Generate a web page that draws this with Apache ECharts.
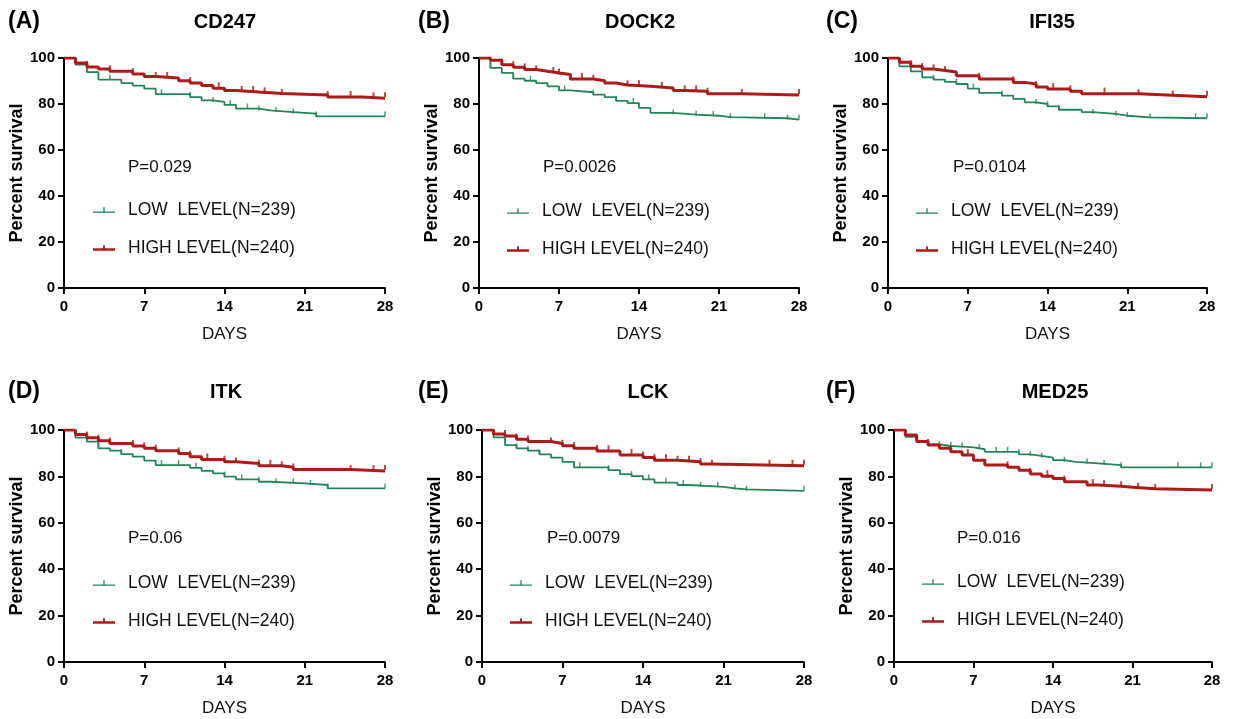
<!DOCTYPE html>
<html>
<head>
<meta charset="utf-8">
<script src="https://cdn.jsdelivr.net/npm/echarts@6/dist/echarts.min.js"></script>
<style>
html,body{margin:0;padding:0;background:#fff;}
#chart{width:1237px;height:719px;}
</style>
</head>
<body>
<div id="chart"></div>
<script>
// ---------- DATA ----------
const panelTitles = ['CD247', 'DOCK2', 'IFI35', 'ITK', 'LCK', 'MED25'];
const panelLetters = ['(A)', '(B)', '(C)', '(D)', '(E)', '(F)'];
const pValues = ['P=0.029', 'P=0.0026', 'P=0.0104', 'P=0.06', 'P=0.0079', 'P=0.016'];
const seriesNames = ['LOW  LEVEL(N=239)', 'HIGH LEVEL(N=240)'];
const xTicks = [0, 7, 14, 21, 28];
const yTicks = [0, 20, 40, 60, 80, 100];
const xAxisTitle = 'DAYS';
const yAxisTitle = 'Percent survival';

// step points [day, percent survival]
const lowA  = [[0,100],[1,97.1],[2,93.9],[3,90.6],[5,89.1],[6,88],[7,86.7],[8,84.3],[11,83],[12,81.6],[13,80.9],[14,79.6],[15,78],[17,77.2],[18,76.5],[20,75.8],[22,74.6],[28,74.6]];
const highA = [[0,100],[1,97.8],[2,96.1],[3,95.2],[4,94.2],[6,93],[7,92],[8,91.3],[10,90.1],[11,89.1],[12,88],[13,86.8],[14,85.9],[15,85.2],[17,84.6],[19,83.9],[23,83],[26,82.5],[28,82.5]];
const lowB  = [[0,100],[1,95.7],[2,93.5],[3,91],[4,90.1],[5,89.1],[6,87.7],[7,85.9],[8,85.1],[10,84.1],[11,83],[12,81.4],[13,80.4],[14,78.3],[15,76.1],[17,75.4],[19,74.9],[21,74.3],[22,73.8],[27,73.2],[28,73.2]];
const highB = [[0,100],[1,99],[2,97.1],[3,96],[4,95],[5,94.2],[6,93.5],[7,92.8],[8,90.9],[10,90.1],[11,89.1],[12,88.3],[13,87.7],[15,87],[17,85.9],[18,85.5],[20,84.5],[23,83.9],[28,83.9]];
const lowC  = [[0,100],[1,96.4],[2,94.2],[3,91.6],[4,90.6],[5,89.6],[6,88.7],[7,86.7],[8,84.8],[10,83.6],[11,82.2],[12,80.7],[13,80],[14,79],[15,77.5],[17,76.5],[18,75.7],[20,74.9],[21,74.2],[23,73.8],[28,73.8]];
const highC = [[0,100],[1,98.1],[2,96.4],[3,95.2],[4,94.6],[5,93.9],[6,92.3],[8,90.9],[11,89.4],[12,88.7],[13,87.4],[14,86.5],[16,85.5],[17,84.5],[22,83.8],[25,83.2],[28,83.2]];
const lowD  = [[0,100],[1,96.7],[2,95],[3,92.1],[4,91.1],[5,89.6],[6,88.5],[7,86.8],[8,84.9],[11,83.7],[12,82.4],[13,81.3],[14,79.9],[15,78.7],[17,77.7],[18,77],[21,76.3],[23,74.8],[28,74.8]];
const highD = [[0,100],[1,98.1],[2,96.7],[3,95.4],[4,94.2],[6,93.1],[7,92.1],[8,91.1],[10,89.9],[11,88.5],[12,87.3],[14,86.3],[15,85.6],[17,84.6],[19,83.9],[20,83],[25,82.3],[28,82.3]];
const lowE  = [[0,100],[1,96.8],[2,93.5],[3,92.1],[4,91.1],[5,89.5],[6,88.1],[7,86.3],[8,83.9],[11,82.7],[12,81],[13,80.1],[14,78.7],[15,77.3],[17,76.3],[18,75.5],[21,74.8],[22,74.4],[23,73.8],[28,73.8]];
const highE = [[0,100],[1,98.3],[2,97.4],[3,96],[4,95],[6,94.2],[7,93.2],[8,92.1],[10,90.9],[12,89.2],[14,88.1],[15,87],[17,86.3],[19,85.3],[20,84.6],[28,84.6]];
const lowF  = [[0,100],[1,97.1],[2,95],[3,93.8],[4,93.1],[5,92.8],[6,92.5],[7,91.7],[8,90.6],[11,89.5],[12,88.8],[13,88.1],[14,87],[15,86.3],[16,85.6],[18,84.9],[20,83.9],[28,83.9]];
const highF = [[0,100],[1,97.8],[2,95],[3,93.5],[4,92.1],[5,90.6],[6,89.2],[7,87],[8,84.9],[10,83.9],[11,82.7],[12,81],[13,80.1],[14,79.1],[15,77.7],[17,76.3],[18,75.8],[20,75.3],[21,74.7],[23,74.1],[28,74.1]];

// censoring times (days)
const lowCensorA  = [4, 8.5, 11, 13, 14.5, 16, 17, 18.5, 20, 22, 28];
const highCensorA = [2, 4, 6, 8, 9, 11, 13.5, 15.5, 16.5, 17.5, 19, 23, 25, 27, 28];
const lowCensorB  = [1, 3, 4.5, 7.5, 10, 12, 13.5, 17, 19, 20.5, 22, 25, 27, 28];
const highCensorB = [2, 3, 4, 5, 6.5, 7, 9, 10, 13, 14, 16, 18, 19, 20, 23, 28];
const lowCensorC  = [4, 6, 7.5, 10, 13, 14, 15, 18, 20, 21, 23, 27, 28];
const highCensorC = [2, 3, 4, 5, 8, 11, 13, 14.5, 16, 19, 22, 25, 28];
const lowCensorD  = [3, 5, 8.5, 10, 11.5, 14, 15.5, 17, 18.5, 20, 21.5, 23, 28];
const highCensorD = [2, 3, 4, 6, 7, 8, 10, 11, 12.5, 14, 15, 17, 18, 19, 20, 25, 27, 28];
const lowCensorE  = [3, 4, 5, 8.5, 11, 13, 14.5, 16, 17.5, 19, 20.5, 22, 23, 28];
const highCensorE = [2, 3, 4, 6, 7, 8, 10, 11, 13, 14, 15, 16, 17, 18, 19, 20, 25, 27, 28];
const lowCensorF  = [2, 3, 4, 5, 6, 7.5, 9, 10, 11, 12, 13, 15, 17, 18.5, 20, 25, 27, 28];
const highCensorF = [2, 3, 5, 6.5, 8, 10, 12, 13.5, 15, 17.5, 18.5, 20, 21.5, 23, 28];

// ---------- LAYOUT / STYLE ----------
const lowCurves = [lowA, lowB, lowC, lowD, lowE, lowF];
const highCurves = [highA, highB, highC, highD, highE, highF];
const lowCensors = [lowCensorA, lowCensorB, lowCensorC, lowCensorD, lowCensorE, lowCensorF];
const highCensors = [highCensorA, highCensorB, highCensorC, highCensorD, highCensorE, highCensorF];

const FONT = '"Liberation Sans", Arial, Helvetica, sans-serif';
const GREEN = '#24845a';
const RED = '#ac1a1a';

const grids = [
  {left: 64, top: 58, width: 321, height: 230},
  {left: 479, top: 58, width: 320, height: 230},
  {left: 888, top: 58, width: 319, height: 230},
  {left: 64, top: 430, width: 321, height: 232},
  {left: 482, top: 430, width: 322, height: 232},
  {left: 894, top: 430, width: 318, height: 232}
];
const legendPos = [
  {left: 93, top: 200}, {left: 507, top: 201}, {left: 916, top: 201},
  {left: 93, top: 573}, {left: 510, top: 573}, {left: 922, top: 572}
];
const pPos = [[128,167],[543,167],[953,167],[128,538],[547,538],[957,538]];
const titlePos = [[225,22],[640,22],[1052,22],[226,392],[648,392],[1055,392]];
const letterPos = [[8,22],[418,22],[826,22],[8,392],[418,392],[826,392]];

function stepValue(curve, day) {
  let v = curve[0][1];
  for (const p of curve) { if (p[0] <= day) v = p[1]; }
  return v;
}

const chart = echarts.init(document.getElementById('chart'), null, {renderer: 'canvas'});

const xAxes = [], yAxes = [], series = [], legends = [], graphics = [];
const lowIcon = 'path://M0,4.6 L24,4.6 L24,6 L0,6 Z M11.3,0 L12.7,0 L12.7,4.6 L11.3,4.6 Z';
const highIcon = 'path://M0,3.2 L24,3.2 L24,6 L0,6 Z M11,0 L13,0 L13,3.2 L11,3.2 Z';

for (let i = 0; i < 6; i++) {
  xAxes.push({
    gridIndex: i, type: 'value', min: 0, max: 28, interval: 7,
    name: xAxisTitle, nameLocation: 'middle', nameGap: 38,
    nameTextStyle: {fontFamily: FONT, fontSize: 17, color: '#111'},
    axisLine: {show: true, onZero: false, lineStyle: {color: '#000', width: 2}},
    axisTick: {show: true, length: 6, lineStyle: {color: '#000', width: 2}},
    axisLabel: {fontFamily: FONT, fontSize: 15, fontWeight: 'bold', color: '#000', margin: 11,
      formatter: v => xTicks.includes(v) ? String(v) : ''},
    splitLine: {show: false}
  });
  yAxes.push({
    gridIndex: i, type: 'value', min: 0, max: 100, interval: 20,
    name: yAxisTitle, nameLocation: 'middle', nameGap: 32, nameRotate: 90,
    nameTextStyle: {fontFamily: FONT, fontSize: 18, fontWeight: 'bold', color: '#000'},
    axisLine: {show: true, onZero: false, lineStyle: {color: '#000', width: 2}},
    axisTick: {show: true, length: 6, lineStyle: {color: '#000', width: 2}},
    axisLabel: {fontFamily: FONT, fontSize: 15, fontWeight: 'bold', color: '#000', margin: 9,
      formatter: v => yTicks.includes(v) ? String(v) : ''},
    splitLine: {show: false}
  });
  series.push({
    name: seriesNames[0], type: 'line', step: 'end', xAxisIndex: i, yAxisIndex: i,
    data: lowCurves[i], showSymbol: false, symbol: 'none',
    lineStyle: {color: GREEN, width: 1.8}, itemStyle: {color: GREEN}, z: 3, animation: false
  });
  series.push({
    name: seriesNames[1], type: 'line', step: 'end', xAxisIndex: i, yAxisIndex: i,
    data: highCurves[i], showSymbol: false, symbol: 'none',
    lineStyle: {color: RED, width: 3}, itemStyle: {color: RED}, z: 4, animation: false
  });
  series.push({
    name: 'lowCensor' + i, type: 'scatter', xAxisIndex: i, yAxisIndex: i,
    data: lowCensors[i].map(d => [d, stepValue(lowCurves[i], d)]),
    symbol: 'rect', symbolSize: [1.5, 5], symbolOffset: [0, -2.5],
    itemStyle: {color: GREEN}, z: 3, animation: false, silent: true
  });
  series.push({
    name: 'highCensor' + i, type: 'scatter', xAxisIndex: i, yAxisIndex: i,
    data: highCensors[i].map(d => [d, stepValue(highCurves[i], d)]),
    symbol: 'rect', symbolSize: [2, 5], symbolOffset: [0, -3.5],
    itemStyle: {color: RED}, z: 4, animation: false, silent: true
  });
  legends.push({
    left: legendPos[i].left, top: legendPos[i].top, orient: 'vertical', padding: 0,
    itemWidth: 22, itemHeight: 6, itemGap: 18, selectedMode: false,
    textStyle: {fontFamily: FONT, fontSize: 17.5, color: '#111', lineHeight: 20, padding: [0, 0, 0, 8]},
    data: [{name: seriesNames[0], icon: lowIcon}, {name: seriesNames[1], icon: highIcon}]
  });
  graphics.push({
    type: 'text', x: pPos[i][0], y: pPos[i][1],
    style: {text: pValues[i], font: '17px ' + FONT, fill: '#111', textAlign: 'left', textVerticalAlign: 'middle'}
  });
  graphics.push({
    type: 'text', x: titlePos[i][0], y: titlePos[i][1],
    style: {text: panelTitles[i], font: 'bold 20px ' + FONT, fill: '#000', textAlign: 'center', textVerticalAlign: 'middle'}
  });
  graphics.push({
    type: 'text', x: letterPos[i][0], y: letterPos[i][1],
    style: {text: panelLetters[i], font: 'bold 23px ' + FONT, fill: '#000', textAlign: 'left', textVerticalAlign: 'middle'}
  });
}

chart.setOption({
  backgroundColor: '#fff',
  animation: false,
  grid: grids,
  xAxis: xAxes,
  yAxis: yAxes,
  legend: legends,
  series: series,
  graphic: graphics
});
</script>
</body>
</html>
